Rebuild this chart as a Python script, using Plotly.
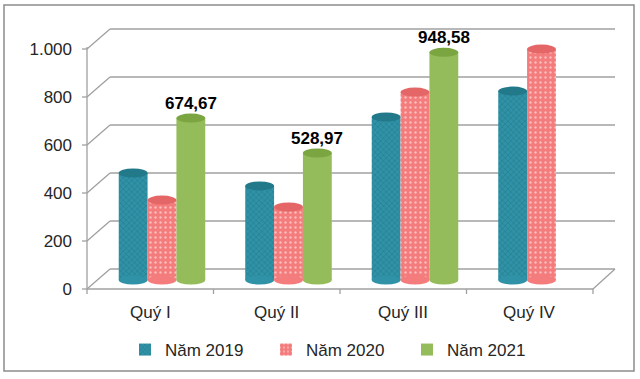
import plotly.graph_objects as go

# ---------------- data ----------------
categories = ["Quý I", "Quý II", "Quý III", "Quý IV"]
series_names = ["Năm 2019", "Năm 2020", "Năm 2021"]
values_2019 = [446, 392, 679, 787]
values_2020 = [333, 304, 783, 962]
values_2021 = [674.67, 528.97, 948.58, None]
y_tick_vals = [0, 200, 400, 600, 800, 1000]
y_tick_text = ["0", "200", "400", "600", "800", "1.000"]

# ---------------- geometry (pixels) ----------------
W, H = 640, 379
L, R, T, B = 78, 617, 25, 296          # plot area
ZERO_PX = 280                          # pixel row of value 0 for the bars (mid depth)
PX_PER_UNIT = 0.24
GROUP0_PX = 162                        # centre of first group
CAT_STEP_PX = 126.5
BARGAP = 0.316
DEPTH_DX, BACK_DY, FRONT_DY = 23, 11, -9
FRONT_X = 87

yr = [-(B - ZERO_PX) / PX_PER_UNIT, (ZERO_PX - T) / PX_PER_UNIT]
xr = [(L - GROUP0_PX) / CAT_STEP_PX, (R - GROUP0_PX) / CAT_STEP_PX]

colors = ["#3092A6", "#F47C7C", "#95BC5A"]
cap_colors = ["#22798A", "#E46666", "#7AA540"]
patterns = [
    dict(shape="x", fgcolor="#1D6878", size=4, solidity=0.3, fillmode="overlay"),
    dict(shape=".", fgcolor="#FFFFFF", size=5, solidity=0.18, fillmode="overlay"),
    dict(shape="", fillmode="overlay"),
]
series_values = [values_2019, values_2020, values_2021]

FONT = "Liberation Sans, Arial, sans-serif"
GRID = "#A0A0A0"

fig = go.Figure()
for name, vals, col, pat in zip(series_names, series_values, colors, patterns):
    fig.add_trace(go.Bar(
        name=name, x=categories, y=vals,
        marker=dict(color=col, line=dict(width=0), pattern=pat),
        cliponaxis=False, hoverinfo="x+y",
    ))

shapes = []


def seg(xa, dya, xb, dyb, v, color=GRID, width=1.3, layer="below"):
    shapes.append(dict(
        type="line", xref="paper", xsizemode="pixel", xanchor=0,
        x0=xa - L, x1=xb - L,
        yref="y", ysizemode="pixel", yanchor=v, y0=dya, y1=dyb,
        line=dict(color=color, width=width), layer=layer,
    ))


# back wall grid lines + depth connectors
for v in y_tick_vals:
    seg(FRONT_X + DEPTH_DX, BACK_DY, R - 2, BACK_DY, v)
    seg(FRONT_X, FRONT_DY, FRONT_X + DEPTH_DX, BACK_DY, v)
    seg(FRONT_X - 5, FRONT_DY, FRONT_X, FRONT_DY, v)  # tick marks

# front left axis (vertical)
seg(FRONT_X, FRONT_DY, FRONT_X, FRONT_DY + (y_tick_vals[-1] - y_tick_vals[0]) * PX_PER_UNIT + 2, 0)

# front floor line and category ticks
n = len(categories)
front_right = FRONT_X + n * CAT_STEP_PX
seg(FRONT_X, FRONT_DY, front_right, FRONT_DY, 0)
seg(front_right, FRONT_DY, R - 2, BACK_DY, 0)
for i in range(n + 1):
    xt = FRONT_X + i * CAT_STEP_PX
    seg(xt, FRONT_DY, xt, FRONT_DY - 5, 0)

# cylinder caps (top & bottom ellipses) anchored at the data values
bar_w = (1 - BARGAP) / len(series_names)
bar_w_px = bar_w * CAT_STEP_PX
for j, (vals, cc, col) in enumerate(zip(series_values, cap_colors, colors)):
    off = (j - (len(series_names) - 1) / 2) * bar_w
    for i, v in enumerate(vals):
        if v is None:
            continue
        for anchor, fill in ((0, col), (v, cc)):
            shapes.append(dict(
                type="circle", xref="x", xsizemode="pixel", xanchor=i + off,
                x0=-bar_w_px / 2, x1=bar_w_px / 2,
                yref="y", ysizemode="pixel", yanchor=anchor, y0=-4.5, y1=4.5,
                fillcolor=fill, line=dict(width=0), layer="above"))

# outer border
shapes.append(dict(
    type="rect", xref="paper", yref="paper",
    x0=(4 - L) / (R - L), x1=(634 - L) / (R - L),
    y0=(B - 371) / (B - T), y1=(B - 5) / (B - T),
    line=dict(color="#8C8C8C", width=1.5), fillcolor="rgba(0,0,0,0)", layer="below"))

annotations = []
# category labels on the front plane
for i, c in enumerate(categories):
    annotations.append(dict(
        x=i, y=0, xref="x", yref="y", text=c, showarrow=False,
        xshift=-12, yshift=-32, yanchor="middle",
        font=dict(family=FONT, size=17, color="#262626")))
# data labels for 2021
off2 = (2 - (len(series_names) - 1) / 2) * bar_w
for i, v in enumerate(values_2021):
    if v is None:
        continue
    annotations.append(dict(
        x=i + off2, y=v, xref="x", yref="y",
        text="<b>" + f"{v:.2f}".replace(".", ",") + "</b>",
        showarrow=False, yshift=15, yanchor="middle",
        font=dict(family=FONT, size=17, color="#000000")))

fig.update_layout(
    width=W, height=H,
    margin=dict(l=L, r=W - R, t=T, b=H - B, autoexpand=False),
    paper_bgcolor="white", plot_bgcolor="white",
    barmode="group", bargap=BARGAP, bargroupgap=0,
    font=dict(family=FONT, size=17, color="#262626"),
    xaxis=dict(range=xr, showticklabels=False, showgrid=False, zeroline=False,
               showline=False, ticks=""),
    yaxis=dict(range=yr, tickvals=y_tick_vals, ticktext=y_tick_text,
               showgrid=False, zeroline=False, showline=False, ticks="",
               ticklabelshift=-FRONT_DY, ticklabelstandoff=5,
               tickfont=dict(family=FONT, size=17, color="#262626")),
    legend=dict(orientation="h", x=(125 - L) / (R - L), xanchor="left", xref="paper",
                y=-(350 - B) / (B - T), yanchor="middle",
                entrywidth=96, font=dict(family=FONT, size=17, color="#262626"),
                itemwidth=30, traceorder="normal"),
    shapes=shapes, annotations=annotations,
    showlegend=True,
)

fig.write_html("out.html", config={"displayModeBar": False},
               post_script="document.body.style.margin='0';document.body.style.overflow='hidden';")
